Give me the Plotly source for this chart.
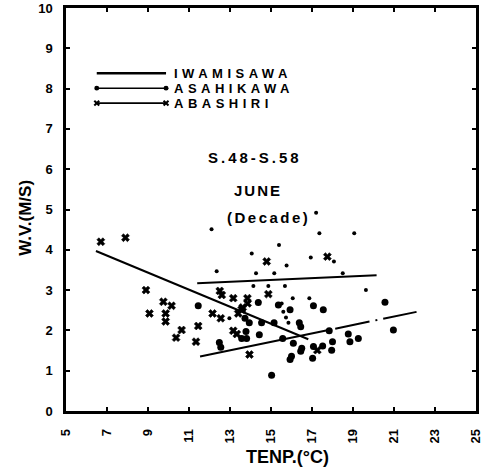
import plotly.graph_objects as go

# Temperature (deg C) and wind velocity (m/s), June decade means, S.48-S.58
iwamisawa_t = [12.1, 17.2, 17.36, 19.06, 15.39, 14.06, 16.94, 18.07, 15.76, 12.35,
               14.27, 15.16, 18.5, 19.63, 14.14, 14.87, 15.68, 16.06, 16.87, 12.97,
               15.52, 15.6, 15.73, 15.85, 14.43]
iwamisawa_w = [4.51, 4.92, 4.41, 4.41, 4.12, 3.91, 3.81, 3.71, 3.61, 3.47,
               3.42, 3.42, 3.42, 3.0, 3.10, 3.10, 3.10, 2.80, 2.80, 2.30,
               2.67, 2.46, 2.32, 2.19, 2.71]

asahikawa_t = [11.45, 12.48, 12.55, 13.78, 13.57, 13.81, 13.73, 13.94, 14.38, 14.54,
               14.43, 15.15, 15.36, 15.03, 15.93, 16.38, 16.45, 17.07, 17.55, 17.84,
               18.77, 18.85, 19.26, 18.0, 17.96, 17.07, 17.52, 17.03, 16.5, 16.45,
               16.0, 15.93, 20.56, 20.97, 15.57, 16.09]
asahikawa_w = [2.61, 1.70, 1.58, 1.97, 1.80, 1.80, 2.30, 2.19, 2.69, 2.19,
               1.89, 2.19, 2.63, 0.89, 2.51, 2.19, 2.09, 2.61, 2.51, 1.99,
               1.91, 1.72, 1.80, 1.72, 1.51, 1.60, 1.61, 1.31, 1.56, 1.48,
               1.36, 1.28, 2.70, 2.01, 1.80, 1.68]

abashiri_t = [6.7, 7.9, 8.9, 9.75, 10.15, 9.07, 9.86, 9.86, 10.37, 10.64,
              11.45, 11.34, 12.5, 12.6, 13.16, 13.85, 13.86, 14.87, 12.15, 12.55,
              13.4, 13.62, 13.16, 13.33, 13.95, 14.79, 17.75, 17.26, 13.57]
abashiri_w = [4.2, 4.3, 3.0, 2.71, 2.61, 2.42, 2.42, 2.22, 1.82, 2.01,
              2.11, 1.72, 2.98, 2.88, 2.80, 2.80, 2.67, 2.90, 2.42, 2.30,
              2.42, 2.57, 1.99, 1.91, 1.40, 3.71, 3.83, 1.51, 2.52]

# Regression line end points per station
iwamisawa_fit_t = [11.4, 20.15]
iwamisawa_fit_w = [3.17, 3.37]
asahikawa_fit_t = [11.54, 22.1]
asahikawa_fit_w = [1.35, 2.46]
abashiri_fit_t = [6.46, 16.82]
abashiri_fit_w = [3.97, 1.78]

x_ticks = [5, 7, 9, 11, 13, 15, 17, 19, 21, 23, 25]
y_ticks = list(range(0, 11))

legend_labels = ["IWAMISAWA", "ASAHIKAWA", "ABASHIRI"]
period_text = "S.48-S.58"
month_text = "JUNE"
unit_text = "(Decade)"
x_title = "TENP.(°C)"
y_title = "W.V.(M/S)"

INK = "#000000"
FONT = "Liberation Sans"


def spaced(text, px):
    """Wrap text in a span with extra letter spacing (plotter-style lettering)."""
    return '<span style="letter-spacing:%gpx">%s</span>' % (px, text)


fig = go.Figure()

fig.add_trace(go.Scatter(x=iwamisawa_fit_t, y=iwamisawa_fit_w, mode="lines",
                         line=dict(color=INK, width=2), hoverinfo="skip"))
fig.add_trace(go.Scatter(x=abashiri_fit_t, y=abashiri_fit_w, mode="lines",
                         line=dict(color=INK, width=2), hoverinfo="skip"))
fig.add_trace(go.Scatter(x=asahikawa_fit_t, y=asahikawa_fit_w, mode="lines",
                         line=dict(color=INK, width=2,
                                   dash="130px,8px,35px,6px,2px,6px,40px"),
                         hoverinfo="skip"))

fig.add_trace(go.Scatter(x=iwamisawa_t, y=iwamisawa_w, mode="markers",
                         marker=dict(symbol="circle", size=4, color=INK)))
fig.add_trace(go.Scatter(x=asahikawa_t, y=asahikawa_w, mode="markers",
                         marker=dict(symbol="circle", size=7, color=INK)))
fig.add_trace(go.Scatter(x=abashiri_t, y=abashiri_w, mode="markers",
                         marker=dict(symbol="x", size=7, color=INK,
                                     line=dict(color=INK, width=0.6))))

# Hand-drawn style key in paper coordinates
key_x0, key_x1 = 0.075, 0.244
key_rows = [0.838, 0.801, 0.764]
shapes = []
for i, yy in enumerate(key_rows):
    shapes.append(dict(type="line", xref="paper", yref="paper", x0=key_x0, x1=key_x1,
                       y0=yy, y1=yy, line=dict(color=INK, width=2.5 if i == 0 else 1.6)))
for xx in (key_x0, key_x1):
    yy = key_rows[1]
    shapes.append(dict(type="circle", xref="paper", yref="paper",
                       x0=xx - 0.006, x1=xx + 0.006, y0=yy - 0.006, y1=yy + 0.006,
                       fillcolor=INK, line=dict(color=INK, width=0)))
    yy = key_rows[2]
    for d in (1, -1):
        shapes.append(dict(type="line", xref="paper", yref="paper",
                           x0=xx - 0.006, x1=xx + 0.006,
                           y0=yy - 0.006 * d, y1=yy + 0.006 * d,
                           line=dict(color=INK, width=2)))

annotations = []
for label, yy in zip(legend_labels, key_rows):
    annotations.append(dict(text=spaced(label, 4.5), xref="paper", yref="paper",
                            x=0.262, y=yy, xanchor="left", yanchor="middle",
                            showarrow=False, borderpad=0,
                            font=dict(family=FONT, size=13, color=INK, weight="bold")))
for txt, xx, yy, sz, sp in [(period_text, 0.460, 0.628, 15, 3),
                            (month_text, 0.468, 0.548, 15, 2),
                            (unit_text, 0.493, 0.479, 15, 2.5)]:
    annotations.append(dict(text=spaced(txt, sp), xref="paper", yref="paper", x=xx, y=yy,
                            xanchor="center", yanchor="middle", showarrow=False,
                            font=dict(family=FONT, size=sz, color=INK, weight="bold")))
annotations.append(dict(text=x_title, xref="paper", yref="paper", x=0.541, y=-0.115,
                        xanchor="center", yanchor="middle", showarrow=False,
                        font=dict(family=FONT, size=18, color=INK, weight="bold")))
annotations.append(dict(text=y_title, xref="paper", yref="paper", x=-0.098, y=0.479,
                        xanchor="center", yanchor="middle", showarrow=False, textangle=-90,
                        font=dict(family=FONT, size=17, color=INK, weight="bold")))

axis_common = dict(showline=True, linecolor=INK, linewidth=2.5, mirror="allticks",
                   ticks="inside", ticklen=4, tickwidth=1.5, tickcolor=INK,
                   showgrid=False, zeroline=False, automargin=False,
                   tickfont=dict(family=FONT, size=13, color=INK, weight="bold"))

fig.update_layout(
    width=492, height=474,
    margin=dict(l=66, r=16, t=8, b=63),
    paper_bgcolor="white", plot_bgcolor="white",
    showlegend=False,
    xaxis=dict(range=[5, 25], tickvals=x_ticks, ticktext=[str(v) for v in x_ticks],
               tickangle=-90, ticklabelstandoff=10, **axis_common),
    yaxis=dict(range=[0, 10], tickvals=y_ticks, ticktext=[str(v) for v in y_ticks],
               ticklabelstandoff=8, **axis_common),
    shapes=shapes, annotations=annotations,
)

fig.write_html("out.html")
